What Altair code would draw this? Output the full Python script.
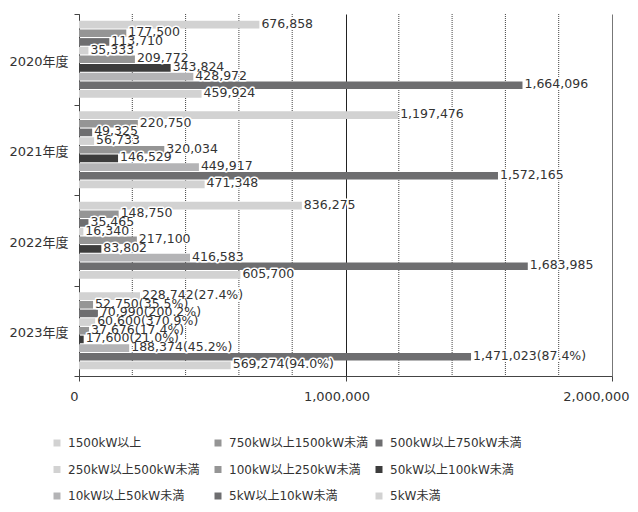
import altair as alt
import pandas as pd

years = ["2020年度", "2021年度", "2022年度", "2023年度"]
classes = [
    "1500kW以上", "750kW以上1500kW未満", "500kW以上750kW未満",
    "250kW以上500kW未満", "100kW以上250kW未満", "50kW以上100kW未満",
    "10kW以上50kW未満", "5kW以上10kW未満", "5kW未満",
]
colors = ["#d2d2d2", "#959595", "#6e6e70", "#d2d2d2", "#959595",
          "#3c3c3c", "#b4b4b6", "#6e6e70", "#d2d2d2"]

v2020 = [676858, 177500, 113710, 35333, 209772, 343824, 428972, 1664096, 459924]
v2021 = [1197476, 220750, 49325, 56733, 320034, 146529, 449917, 1572165, 471348]
v2022 = [836275, 148750, 35465, 16340, 217100, 83802, 416583, 1683985, 605700]
v2023 = [228742, 52750, 70990, 60600, 37676, 17600, 188374, 1471023, 569274]
pct2023 = [27.4, 35.5, 200.2, 370.9, 17.4, 21.0, 45.2, 87.4, 94.0]

x_ticks = [0, 1000000, 2000000]
dotted_grid = [200000, 400000, 600000, 800000, 1200000, 1400000, 1600000, 1800000]

rows = []
for yr, vals in zip(years, [v2020, v2021, v2022, v2023]):
    for i, (c, v) in enumerate(zip(classes, vals)):
        lab = f"{v:,}"
        if yr == "2023年度":
            lab += f"({pct2023[i]:.1f}%)"
        rows.append(dict(year=yr, cls=c, value=v, label=lab))
df = pd.DataFrame(rows)
grid_df = pd.DataFrame({"value": dotted_grid})

FONT = "DejaVu Sans, Noto Sans CJK JP"

x_scale = alt.Scale(domain=[0, 2000000], nice=False, zero=True)
x_axis = alt.Axis(
    title=None, values=x_ticks, labelExpr="format(datum.value, ',')", grid=True,
    gridColor={"condition": {"test": "datum.value === 2000000", "value": "#777777"}, "value": "#222222"},
    gridWidth=1, domainColor="#444", tickColor="#444", tickSize=5,
    labelFont=FONT, labelFontSize=13, labelColor="#333", labelPadding=9,
    labelAlign={"condition": {"test": "datum.value === 2000000", "value": "right"}, "value": "center"},
    labelOffset={"condition": [
        {"test": "datum.value === 2000000", "value": 17},
        {"test": "datum.value === 1000000", "value": -9},
    ], "value": -5},
    labelFlush=False,
)
y_enc = alt.Y(
    "year:N", sort=years,
    scale=alt.Scale(paddingInner=0, paddingOuter=0),
    axis=alt.Axis(title=None, tickBand="extent", labelFont=FONT, labelFontSize=13,
                  labelColor="#333", tickSize=5, labelPadding=6,
                  domainColor="#444", tickColor="#444", labelOffset=2),
)
yoff = alt.YOffset("cls:N", sort=classes,
                   scale=alt.Scale(paddingInner=0.12, paddingOuter=0.78))

grid = alt.Chart(grid_df).mark_rule(strokeDash=[1, 1], color="#444", strokeWidth=1).encode(
    x=alt.X("value:Q", scale=x_scale, axis=x_axis)
)

base = alt.Chart(df)
bars = base.mark_bar().encode(
    x=alt.X("value:Q", scale=x_scale, axis=x_axis),
    y=y_enc,
    yOffset=yoff,
    color=alt.Color(
        "cls:N", sort=classes,
        scale=alt.Scale(domain=classes, range=colors),
        legend=alt.Legend(
            title=None, orient="none", legendX=-28, legendY=423, columns=3,
            direction="horizontal",
            gridAlign="all", columnPadding=4, rowPadding=14.5, padding=0,
            symbolType="square", symbolSize=49, symbolStrokeWidth=0,
            labelFont=FONT, labelFontSize=12, labelColor="#333",
            labelOffset=5, labelLimit=0,
        ),
    ),
)

halo = base.mark_text(
    align="left", baseline="middle", dx=2, dy=-1, font=FONT, fontSize=12.5,
    stroke="white", strokeWidth=3, strokeJoin="round", color="white",
).encode(x=alt.X("value:Q", scale=x_scale, axis=x_axis), y=y_enc, yOffset=yoff, text="label:N")

text = base.mark_text(
    align="left", baseline="middle", dx=2, dy=-1, font=FONT, fontSize=12.5, color="#333",
).encode(x=alt.X("value:Q", scale=x_scale, axis=x_axis), y=y_enc, yOffset=yoff, text="label:N")

chart = alt.layer(grid, bars, halo, text).properties(
    width=533, height=362,
    autosize=alt.AutoSizeParams(type="none"),
    padding={"left": 71, "top": 6, "right": 18, "bottom": 128},
).configure_view(stroke=None)

chart.save("out.html", embed_options={"renderer": "svg", "actions": False})
